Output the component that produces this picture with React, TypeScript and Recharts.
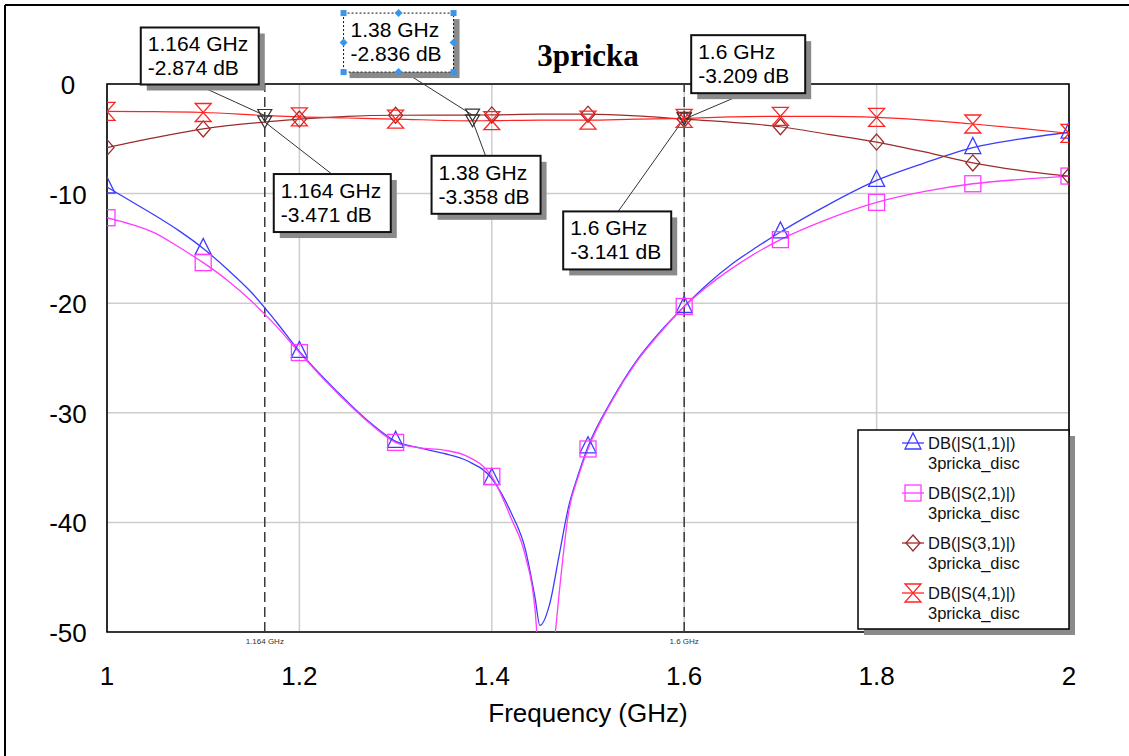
import React from "react";
import {
  ComposedChart,
  Line,
  XAxis,
  YAxis,
  CartesianGrid,
  ReferenceLine,
  ReferenceDot,
  ReferenceArea,
  Legend,
} from "recharts";

const FONT = "'Liberation Sans', Arial, Helvetica, sans-serif";

// DB(|S(1,1)|)
const s11Freq = [1.0, 1.025, 1.05, 1.075, 1.1, 1.125, 1.15, 1.175, 1.2, 1.225, 1.25, 1.275, 1.3, 1.325, 1.35, 1.375, 1.4, 1.42, 1.435, 1.445, 1.45, 1.46, 1.47, 1.48, 1.49, 1.5, 1.525, 1.55, 1.575, 1.6, 1.625, 1.65, 1.675, 1.7, 1.75, 1.8, 1.85, 1.9, 1.95, 2.0];
const s11Db = [-9.4, -10.7, -12.0, -13.4, -15.0, -16.9, -19.0, -21.6, -24.4, -26.8, -29.0, -31.0, -32.6, -33.2, -33.7, -34.4, -36.0, -39.1, -42.5, -46.9, -49.4, -47.5, -43.0, -38.5, -35.6, -33.1, -28.8, -25.3, -22.6, -20.3, -18.2, -16.4, -14.9, -13.5, -11.0, -8.8, -7.2, -5.8, -5.0, -4.4];

// DB(|S(2,1)|)
const s21Freq = [1.0, 1.025, 1.05, 1.075, 1.1, 1.125, 1.15, 1.175, 1.2, 1.225, 1.25, 1.275, 1.3, 1.325, 1.35, 1.375, 1.4, 1.42, 1.435, 1.445, 1.45, 1.455, 1.46, 1.465, 1.47, 1.48, 1.49, 1.5, 1.525, 1.55, 1.575, 1.6, 1.625, 1.65, 1.675, 1.7, 1.75, 1.8, 1.85, 1.9, 1.95, 2.0];
const s21Db = [-12.2, -12.8, -13.6, -14.9, -16.3, -17.9, -19.8, -22.0, -24.5, -26.9, -29.1, -31.1, -32.7, -33.2, -33.4, -34.0, -35.8, -39.6, -43.1, -48.0, -54.0, -58.0, -55.0, -51.0, -46.5, -39.0, -35.8, -33.3, -28.9, -25.4, -22.7, -20.3, -18.4, -16.8, -15.4, -14.2, -12.3, -10.8, -9.8, -9.1, -8.7, -8.4];

// DB(|S(3,1)|)
const s31Freq = [1.0, 1.05, 1.1, 1.125, 1.164, 1.2, 1.25, 1.3, 1.38, 1.4, 1.45, 1.5, 1.55, 1.6, 1.65, 1.7, 1.75, 1.8, 1.85, 1.9, 1.95, 2.0];
const s31Db = [-5.8, -4.9, -4.1, -3.8, -3.471, -3.2, -2.95, -2.85, -2.836, -2.82, -2.75, -2.75, -2.9, -3.209, -3.5, -3.9, -4.6, -5.3, -6.2, -7.2, -7.9, -8.4];

// DB(|S(4,1)|)
const s41Freq = [1.0, 1.05, 1.1, 1.164, 1.2, 1.25, 1.3, 1.38, 1.4, 1.45, 1.5, 1.55, 1.6, 1.65, 1.7, 1.75, 1.8, 1.85, 1.9, 1.95, 2.0];
const s41Db = [-2.5, -2.52, -2.6, -2.874, -3.0, -3.1, -3.2, -3.358, -3.35, -3.3, -3.3, -3.2, -3.141, -3.0, -2.95, -2.95, -3.05, -3.3, -3.65, -4.05, -4.5];

const seriesNames = ["DB(|S(1,1)|)", "DB(|S(2,1)|)", "DB(|S(3,1)|)", "DB(|S(4,1)|)"];
const sourceName = "3pricka_disc";
const chartTitle = "3pricka";

const xTicks = [1, 1.2, 1.4, 1.6, 1.8, 2];
const yTicks = [-50, -40, -30, -20, -10, 0];
const markerLineFreq = [1.164, 1.6];
const markerLineLabel = ["1.164 GHz", "1.6 GHz"];

// data markers (m1..m6)
const annotFreq = [1.164, 1.164, 1.38, 1.38, 1.6, 1.6];
const annotDb = [-2.874, -3.471, -2.836, -3.358, -3.209, -3.141];

// label box placement relative to the marked point (bx,by box corner, lx,ly leader end)
const annotLayout = [
  { bx: -124, by: -88, bw: 118, bh: 57, lx: -68, ly: -31, sel: false },
  { bx: 9, by: 52, bw: 117, bh: 58, lx: 67, ly: 52, sel: false },
  { bx: -129, by: -102, bw: 110, bh: 59, lx: -68, ly: -43, sel: true },
  { bx: -41, by: 35, bw: 109, bh: 58, lx: 13, ly: 35, sel: false },
  { bx: 7, by: -84, bw: 114, bh: 58, lx: 61, ly: -26, sel: false },
  { bx: -121, by: 93, bw: 108, bh: 58, lx: -66, ly: 93, sel: false },
];

type Kind = "tri" | "sq" | "dia" | "hour";

const toData = (fs: number[], vs: number[]) => fs.map((f, i) => ({ f, v: vs[i] }));

const SERIES: { name: string; color: string; kind: Kind; width: number; data: { f: number; v: number }[] }[] = [
  { name: seriesNames[0], color: "#3c3cff", kind: "tri", width: 1.3, data: toData(s11Freq, s11Db) },
  { name: seriesNames[1], color: "#ff3cff", kind: "sq", width: 1.3, data: toData(s21Freq, s21Db) },
  { name: seriesNames[2], color: "#9c2b2b", kind: "dia", width: 1.2, data: toData(s31Freq, s31Db) },
  { name: seriesNames[3], color: "#ff2424", kind: "hour", width: 1.2, data: toData(s41Freq, s41Db) },
];

function MarkerShape({ kind, cx, cy, color }: { kind: Kind; cx: number; cy: number; color: string }) {
  const common = { fill: "none", stroke: color, strokeWidth: 1.3 };
  if (kind === "tri") return <path d={`M${cx - 8},${cy + 6}L${cx + 8},${cy + 6}L${cx},${cy - 10}Z`} {...common} />;
  if (kind === "sq") return <rect x={cx - 8} y={cy - 8} width={16} height={16} {...common} />;
  if (kind === "dia") return <path d={`M${cx},${cy - 8}L${cx + 7},${cy}L${cx},${cy + 8}L${cx - 7},${cy}Z`} {...common} />;
  return <path d={`M${cx - 8},${cy - 9}L${cx + 8},${cy - 9}L${cx - 8},${cy + 9}L${cx + 8},${cy + 9}Z`} {...common} />;
}

const isStep = (f: number) => Math.abs(f * 10 - Math.round(f * 10)) < 1e-6;

const makeDot = (kind: Kind, color: string) => (props: any) => {
  const { cx, cy, payload, index } = props;
  if (cx == null || cy == null || !payload || !isStep(payload.f)) return <g key={`n-${index}`} />;
  return (
    <g key={`m-${index}`}>
      <MarkerShape kind={kind} cx={cx} cy={cy} color={color} />
    </g>
  );
};

const YTick = (props: any) => (
  <text x={68} y={props.y + 10} textAnchor="middle" fontSize={26} fontFamily={FONT} fill="#000">
    {props.payload.value}
  </text>
);

const XTick = (props: any) => (
  <text x={props.x} y={685} textAnchor="middle" fontSize={26} fontFamily={FONT} fill="#000">
    {props.payload.value}
  </text>
);

function Annotation({ cx, cy, idx }: { cx: number; cy: number; idx: number }) {
  const lay = annotLayout[idx];
  const x0 = cx + lay.bx;
  const y0 = cy + lay.by;
  const handles = lay.sel
    ? [
        [x0, y0], [x0 + lay.bw, y0], [x0, y0 + lay.bh], [x0 + lay.bw, y0 + lay.bh],
      ]
    : [];
  const diamonds = lay.sel
    ? [
        [x0 + lay.bw / 2, y0], [x0 + lay.bw / 2, y0 + lay.bh], [x0, y0 + lay.bh / 2], [x0 + lay.bw, y0 + lay.bh / 2],
      ]
    : [];
  return (
    <g fontFamily={FONT}>
      <line x1={cx} y1={cy} x2={cx + lay.lx} y2={cy + lay.ly} stroke="#333" strokeWidth={1} />
      <rect x={x0 + 6} y={y0 + 6} width={lay.bw} height={lay.bh} fill="#8a8a8a" />
      <rect
        x={x0}
        y={y0}
        width={lay.bw}
        height={lay.bh}
        fill="#fff"
        stroke="#111"
        strokeWidth={lay.sel ? 1 : 2}
        strokeDasharray={lay.sel ? "2 2" : undefined}
      />
      <text x={x0 + 7} y={y0 + 24} fontSize={21} fill="#000">
        {annotFreq[idx]} GHz
      </text>
      <text x={x0 + 7} y={y0 + 48} fontSize={21} fill="#000">
        {annotDb[idx]} dB
      </text>
      {handles.map(([hx, hy], i) => (
        <rect key={`h${i}`} x={hx - 3} y={hy - 3} width={6} height={6} fill="#3b95e8" />
      ))}
      {diamonds.map(([hx, hy], i) => (
        <path key={`d${i}`} d={`M${hx},${hy - 4}L${hx + 4},${hy}L${hx},${hy + 4}L${hx - 4},${hy}Z`} fill="#3b95e8" />
      ))}
      <path d={`M${cx - 7},${cy - 6}L${cx + 7},${cy - 6}L${cx},${cy + 6}Z`} fill="none" stroke="#333" strokeWidth={1.2} />
    </g>
  );
}

const renderLegend = (props: any) => {
  const items: any[] = props && props.payload && props.payload.length ? props.payload : SERIES.map((s) => ({ value: s.name }));
  return (
    <svg width={230} height={215} style={{ display: "block" }}>
      <rect x={14} y={11} width={211} height={199} fill="#8a8a8a" />
      <rect x={8} y={5} width={211} height={199} fill="#fff" stroke="#000" strokeWidth={1.5} />
      {items.map((it, i) => {
        const s = SERIES.find((q) => q.name === it.value) || SERIES[i];
        const ry = 18 + i * 50;
        return (
          <g key={s.name} fontFamily={FONT} fontSize={16.5} fill="#111">
            <line x1={52} y1={ry} x2={74} y2={ry} stroke={s.color} strokeWidth={1.3} />
            <MarkerShape kind={s.kind} cx={63} cy={ry} color={s.color} />
            <text x={78} y={ry + 6}>{s.name}</text>
            <text x={78} y={ry + 26}>{sourceName}</text>
          </g>
        );
      })}
    </svg>
  );
};

export default function App() {
  return (
    <div style={{ position: "absolute", left: 0, top: 0, width: 1129, height: 756, overflow: "hidden", background: "#fff" }}>
      <div style={{ position: "absolute", left: 0, top: 0 }}>
        <ComposedChart width={1129} height={756} margin={{ top: 84, right: 60, bottom: 0, left: 0 }}>
          <CartesianGrid stroke="#cdcdcd" strokeWidth={1.5} />
          <XAxis
            type="number"
            dataKey="f"
            domain={[1, 2]}
            ticks={xTicks}
            interval={0}
            height={124}
            tickLine={false}
            axisLine={false}
            allowDataOverflow
            tick={<XTick />}
            label={{ value: "Frequency (GHz)", position: "insideBottom", offset: 34, fontSize: 26, fill: "#000", fontFamily: FONT }}
          />
          <YAxis
            type="number"
            domain={[-50, 0]}
            ticks={yTicks}
            interval={0}
            width={107}
            tickLine={false}
            axisLine={false}
            allowDataOverflow
            tick={<YTick />}
          />
          <ReferenceArea x1={1} x2={2} y1={-50} y2={0} fill="none" stroke="#000" strokeWidth={1.6} ifOverflow="visible" />
          {markerLineFreq.map((f, i) => (
            <ReferenceLine
              key={f}
              x={f}
              stroke="#3a3a3a"
              strokeWidth={1.5}
              strokeDasharray="10 5"
              label={{ value: markerLineLabel[i], position: "bottom", offset: 6, fontSize: 8, fill: "#333", fontFamily: FONT }}
            />
          ))}
          {SERIES.map((s) => (
            <Line
              key={s.name}
              data={s.data}
              dataKey="v"
              name={s.name}
              type="monotone"
              stroke={s.color}
              strokeWidth={s.width}
              dot={makeDot(s.kind, s.color)}
              activeDot={false}
              isAnimationActive={false}
              legendType="none"
            />
          ))}
          {annotFreq.map((f, i) => (
            <ReferenceDot
              key={`a${i}`}
              x={f}
              y={annotDb[i]}
              r={0}
              ifOverflow="visible"
              shape={(p: any) => <Annotation cx={p.cx} cy={p.cy} idx={i} />}
            />
          ))}
          <Legend
            layout="horizontal"
            verticalAlign="middle"
            align="center"
            content={renderLegend}
            wrapperStyle={{ position: "absolute", left: 850, top: 425, width: 230, height: 215 }}
          />
        </ComposedChart>
      </div>
      <svg width={1129} height={756} style={{ position: "absolute", left: 0, top: 0, pointerEvents: "none" }}>
        <line x1={5} y1={5} x2={1129} y2={5} stroke="#000" strokeWidth={2} />
        <line x1={5} y1={5} x2={5} y2={756} stroke="#000" strokeWidth={2} />
        <text x={588} y={66} textAnchor="middle" fontSize={31} fontWeight="bold" fontFamily="'Liberation Serif', 'Times New Roman', serif" fill="#000">
          {chartTitle}
        </text>
      </svg>
    </div>
  );
}
